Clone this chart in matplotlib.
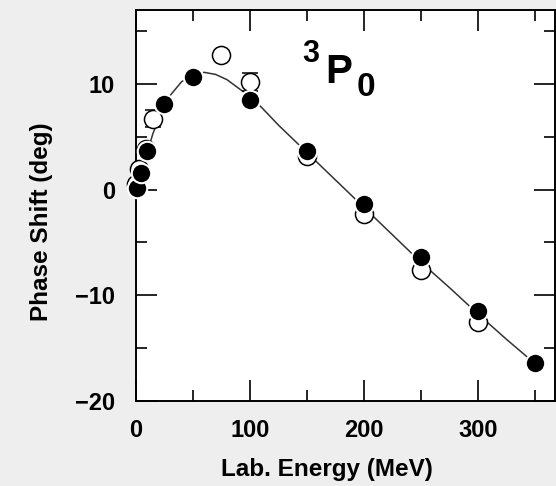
import matplotlib
matplotlib.use("Agg")
import matplotlib.pyplot as plt

plt.rcParams['font.family'] = ['Liberation Sans', 'DejaVu Sans']
plt.rcParams['font.weight'] = 'bold'

# Curva teórica
curva_E = [0, 5, 10, 15, 20, 25, 30, 40, 50, 60, 70, 80, 90, 100, 110, 125,
           150, 175, 200, 225, 250, 275, 300, 325, 350]
curva_delta = [0.0, 1.9, 3.5, 5.3, 6.7, 7.9, 8.9, 10.2, 10.9, 11.1, 10.9, 10.4,
               9.6, 8.8, 7.8, 6.1, 3.5, 0.9, -1.7, -4.3, -6.9, -9.3, -11.8, -14.2, -16.5]

# Pontos cheios
cheio_E = [1, 5, 10, 25, 50, 100, 150, 200, 250, 300, 350]
cheio_delta = [0.2, 1.6, 3.7, 8.1, 10.7, 8.5, 3.7, -1.4, -6.4, -11.5, -16.4]

# Pontos abertos (com barras de erro)
aberto_E = [0, 3, 9, 15, 75, 100, 150, 200, 250, 300]
aberto_delta = [0.5, 2.0, 3.8, 6.7, 12.7, 10.2, 3.2, -2.3, -7.6, -12.5]
aberto_erro = [0.0, 0.0, 0.0, 0.8, 0.0, 0.88, 0.0, 0.0, 0.0, 0.0]

fig = plt.figure(figsize=(5.56, 4.86), dpi=100, facecolor='#eeeeee')
ax = fig.add_axes([0.2442, 0.1749, 0.7538, 0.8045])
ax.set_facecolor('white')

ax.plot(curva_E, curva_delta, color='#333333', lw=1.1, zorder=2)

ax.errorbar(aberto_E, aberto_delta, yerr=aberto_erro, fmt='o', ms=13,
            mfc='white', mec='black', mew=1.1, ecolor='black', elinewidth=1.0,
            capsize=6, capthick=1.2, zorder=3, clip_on=False)

ax.plot(cheio_E, cheio_delta, 'o', ms=14, mfc='black', mec='white', mew=1.5,
        zorder=4, clip_on=False)

ax.text(146, 12.05, '3', fontsize=22, fontweight='bold', ha='left', va='baseline')
ax.text(166, 10.1, 'P', fontsize=29, fontweight='bold', ha='left', va='baseline')
ax.text(193, 8.9, '0', fontsize=24, fontweight='bold', ha='left', va='baseline')

ax.set_xlim(0, 367)
ax.set_ylim(-20, 17)
ax.set_xticks([0, 100, 200, 300])
ax.set_xticks([50, 150, 250, 350], minor=True)
ax.set_yticks([-20, -10, 0, 10])
ax.set_yticks([-15, -5, 5, 15], minor=True)
ax.set_yticklabels(['\u221220', '\u221210', '0', '10'])

ax.tick_params(which='both', direction='in', top=True, right=True,
               width=1.2, labelsize=17)
ax.tick_params(axis='y', pad=15)
ax.tick_params(axis='x', pad=13)
ax.tick_params(which='major', length=15)
ax.tick_params(which='minor', length=8)
for s in ax.spines.values():
    s.set_linewidth(1.4)

ax.set_xlabel('Lab. Energy (MeV)', fontsize=17.5, fontweight='bold')
ax.set_ylabel('Phase Shift (deg)', fontsize=17.5, fontweight='bold')
ax.xaxis.set_label_coords(0.457, -0.174)
ax.xaxis.label.set_va('center')
ax.yaxis.set_label_coords(-0.226, 0.458)
ax.yaxis.label.set_va('center')
ax.yaxis.label.set_ha('center')

plt.savefig('out.png', dpi=100, facecolor=fig.get_facecolor())
plt.close()
